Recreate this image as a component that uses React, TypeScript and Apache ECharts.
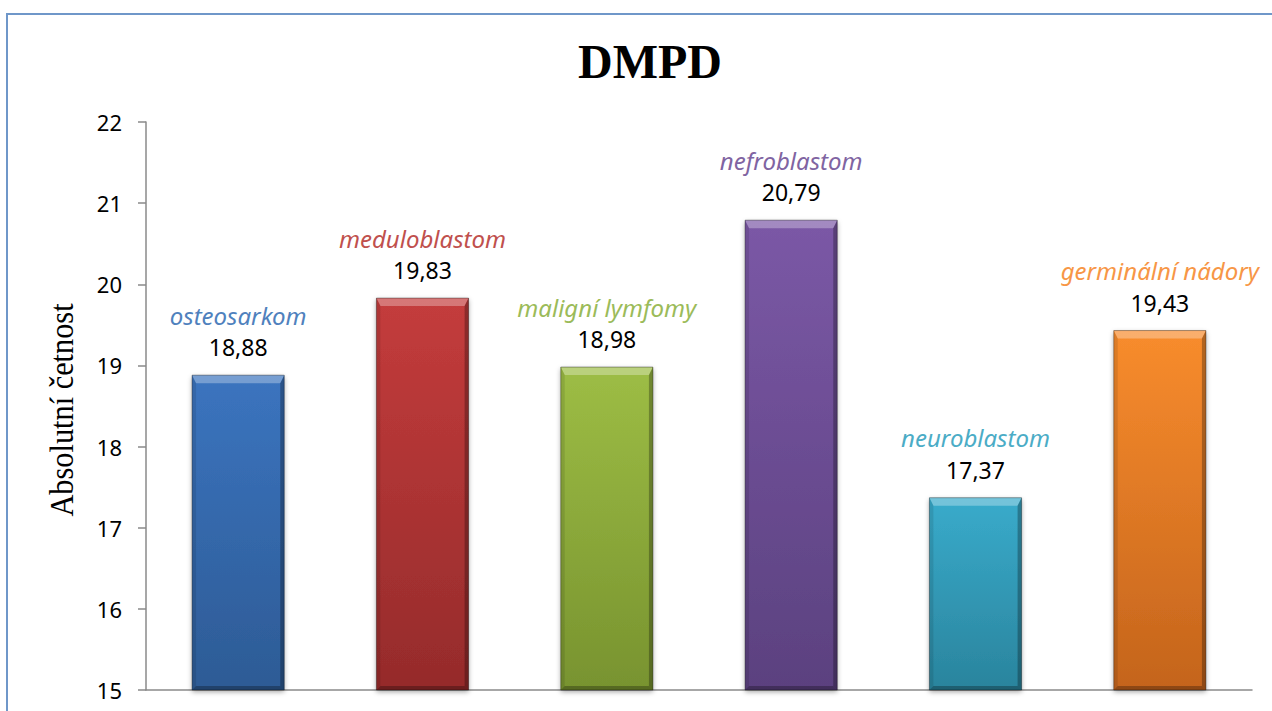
import React, { useEffect, useRef } from "react";
import * as echarts from "echarts";

const categories = [
  "osteosarkom",
  "meduloblastom",
  "maligní lymfomy",
  "nefroblastom",
  "neuroblastom",
  "germinální nádory",
];
const values = [18.88, 19.83, 18.98, 20.79, 17.37, 19.43];
const labelColors = ["#4f81bd", "#c0504d", "#9bbb59", "#8064a2", "#4bacc6", "#f79646"];
const barTopColors = ["#3b74bf", "#c43c3c", "#9dbd45", "#7b58a6", "#39abcb", "#f88c2d"];
const barBottomColors = ["#2d5b95", "#952b2b", "#78932f", "#5b417f", "#2a849d", "#c4641c"];
const yMin = 15;
const yMax = 22;
const yStep = 1;
const yAxisTitle = "Absolutní četnost";

const fmt = (v: number) => v.toFixed(2).replace(".", ",");

export default function App() {
  const ref = useRef<HTMLDivElement>(null);

  useEffect(() => {
    if (!ref.current) return;
    const chart = echarts.init(ref.current, undefined, { renderer: "svg" });

    const barData = values.map((v, i) => ({
      value: v,
      itemStyle: {
        color: new echarts.graphic.LinearGradient(0, 0, 0, 1, [
          { offset: 0, color: barTopColors[i] },
          { offset: 1, color: barBottomColors[i] },
        ]),
      },
      label: {
        formatter: `{name|${categories[i]}}\n{val|${fmt(v)}}`,
        rich: {
          name: {
            fontFamily: "Noto Sans",
            fontStyle: "italic",
            fontSize: 24,
            color: labelColors[i],
            lineHeight: 32,
            align: "center",
          },
          val: {
            fontFamily: "Noto Sans",
            fontSize: 23,
            color: "#000",
            lineHeight: 32,
            align: "center",
          },
        },
      },
    }));

    chart.setOption({
      animation: false,
      backgroundColor: "#fff",
      title: {
        text: "DMPD",
        left: 645,
        top: 32,
        textAlign: "center",
        textStyle: {
          fontFamily: "Liberation Serif",
          fontWeight: "bold",
          fontSize: 48,
          color: "#000",
        },
      },
      graphic: [
        {
          type: "rect",
          shape: { x: 7, y: 14, width: 1320, height: 800 },
          style: { fill: "none", stroke: "#6f97c9", lineWidth: 2 },
          silent: true,
          z: 100,
        },
        {
          // vertical axis title, slightly condensed serif
          type: "text",
          x: 62,
          y: 410,
          rotation: Math.PI / 2,
          scaleX: 0.92,
          style: {
            text: yAxisTitle,
            fontFamily: "Liberation Serif",
            fontSize: 33,
            fill: "#000",
            align: "center",
            verticalAlign: "middle",
          },
          silent: true,
        },
      ],
      grid: { left: 146, right: 20, top: 122, bottom: 21 },
      xAxis: {
        type: "category",
        data: categories,
        axisLabel: { show: false },
        axisTick: { show: false },
        axisLine: { lineStyle: { color: "#8a8a8a", width: 1.5 } },
      },
      yAxis: {
        type: "value",
        min: yMin,
        max: yMax,
        interval: yStep,
        splitLine: { show: false },
        axisLine: { show: true, lineStyle: { color: "#8a8a8a", width: 1.5 } },
        axisTick: { show: true, length: 8, lineStyle: { color: "#8a8a8a", width: 1.5 } },
        axisLabel: {
          margin: 24,
          fontFamily: "Noto Sans",
          fontSize: 22,
          color: "#000",
        },
      },
      series: [
        {
          type: "bar",
          data: barData,
          barWidth: "50%",
          itemStyle: {
            shadowBlur: 5,
            shadowColor: "rgba(0,0,0,0.35)",
            shadowOffsetY: 2,
          },
          label: { show: true, position: "top", distance: 12 },
        },
        {
          type: "custom",
          silent: true,
          z: 3,
          data: values.map((v, i) => [i, v]),
          encode: { x: 0, y: 1 },
          renderItem: (_params: any, api: any) => {
            const idx = api.value(0);
            const v = api.value(1);
            const top = api.coord([idx, v]);
            const base = api.coord([idx, yMin]);
            const w = api.size([1, 0])[0] * 0.5;
            const x0 = top[0] - w / 2;
            const x1 = top[0] + w / 2;
            const y0 = top[1];
            const y1 = base[1];
            const b = 4;
            const t = 8;
            return {
              type: "group",
              children: [
                {
                  type: "polygon",
                  shape: { points: [[x0, y0], [x1, y0], [x1 - b, y0 + t], [x0 + b, y0 + t]] },
                  style: { fill: "rgba(255,255,255,0.3)" },
                },
                {
                  type: "polygon",
                  shape: { points: [[x0, y0], [x0 + b, y0 + t], [x0 + b, y1 - b], [x0, y1]] },
                  style: { fill: "rgba(0,0,0,0.1)" },
                },
                {
                  type: "polygon",
                  shape: { points: [[x1, y0], [x1 - b, y0 + t], [x1 - b, y1 - b], [x1, y1]] },
                  style: { fill: "rgba(0,0,0,0.28)" },
                },
                {
                  type: "polygon",
                  shape: { points: [[x0, y1], [x0 + b, y1 - b], [x1 - b, y1 - b], [x1, y1]] },
                  style: { fill: "rgba(0,0,0,0.28)" },
                },
                {
                  type: "rect",
                  shape: { x: x0, y: y0, width: x1 - x0, height: y1 - y0 },
                  style: { fill: "none", stroke: "rgba(0,0,0,0.35)", lineWidth: 1 },
                },
              ],
            };
          },
        },
      ],
    });

    return () => chart.dispose();
  }, []);

  return (
    <div
      ref={ref}
      style={{ position: "absolute", left: 0, top: 0, width: 1272, height: 711 }}
    />
  );
}
